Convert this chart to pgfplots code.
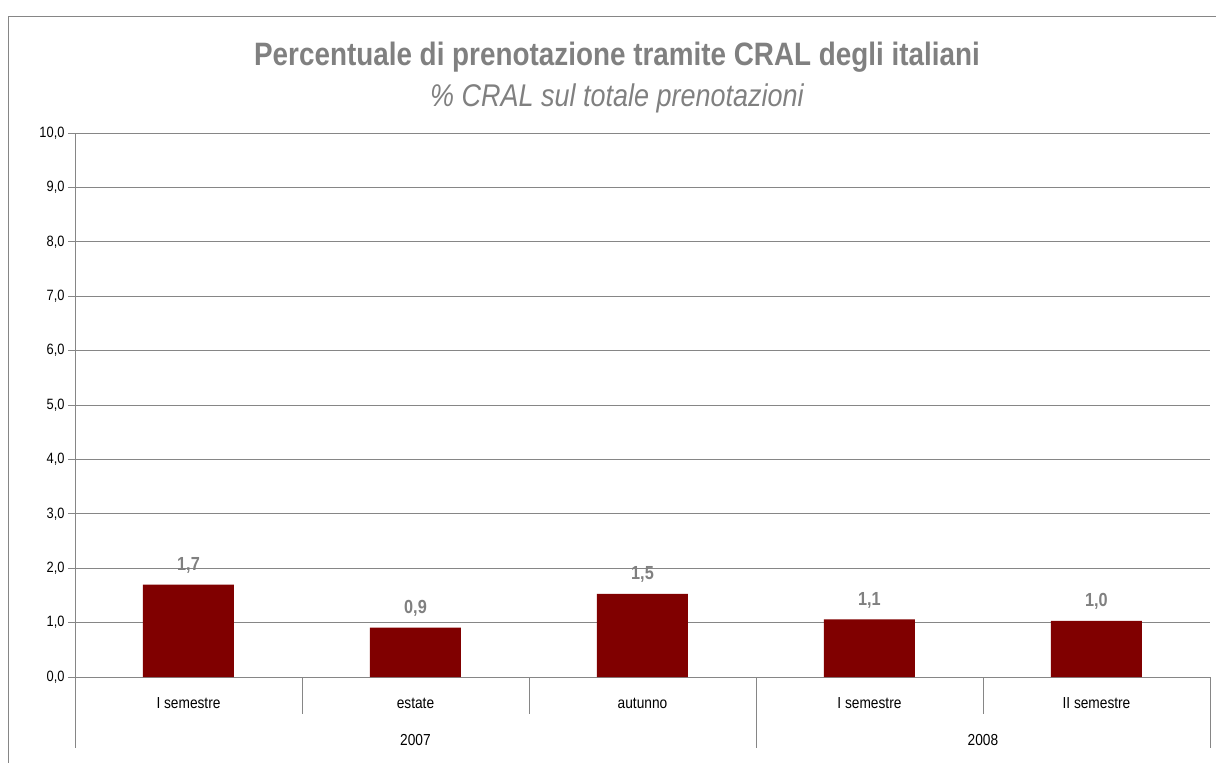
\documentclass[border=0pt]{standalone}
\usepackage{pgfplots}
\pgfplotsset{compat=1.18}
\usepackage{fontspec}
\setmainfont{Liberation Sans}[FakeStretch=0.86]
\definecolor{barred}{RGB}{128,0,0}
\definecolor{titlegray}{RGB}{128,128,128}
\definecolor{gridgray}{RGB}{134,134,134}
\begin{document}
\begin{tikzpicture}
\path[use as bounding box] (0,0) rectangle (1216bp,-763bp);
\draw[gridgray, line width=1bp] (8bp,-763bp) -- (8bp,-16bp) -- (1216bp,-16bp);
\node[font=\bfseries\fontsize{32.5}{38}\selectfont, text=titlegray] at (617bp,-57bp) {Percentuale di prenotazione tramite CRAL degli italiani};
\node[font=\itshape\fontsize{31.5}{37}\selectfont, text=titlegray] at (617bp,-98bp) {\% CRAL sul totale prenotazioni};
\begin{axis}[
  at={(75bp,-677bp)}, anchor=south west,
  width=1135bp, height=544bp, scale only axis,
  xmin=-0.5, xmax=4.5, ymin=0, ymax=10,
  ybar, bar width=91bp,
  axis x line*=bottom, axis y line*=left,
  axis line style={-, draw=gridgray, line width=0.8bp},
  ytick={0,1,...,10},
  yticklabel style={font=\fontsize{15}{17}\selectfont, /pgf/number format/.cd, fixed, fixed zerofill, precision=1, use comma, assume math mode=true},
  ymajorgrids, grid style={gridgray, line width=0.8bp},
  ytick style={draw=gridgray, line width=0.8bp},
  major tick length=7bp, tick align=outside,
  xtick={0,1,2,3,4},
  xticklabels={I semestre, estate, autunno, I semestre, II semestre},
  xtick style={draw=none},
  xticklabel style={font=\fontsize{16}{18}\selectfont, anchor=center, yshift=-19bp},
  clip=false,
]
\addplot[fill=barred, draw=none,
  nodes near coords,
  nodes near coords style={font=\bfseries\fontsize{19}{22}\selectfont, text=titlegray, inner sep=0pt, anchor=south, yshift=11bp, /pgf/number format/.cd, fixed, fixed zerofill, precision=1, use comma, assume math mode=true}]
  coordinates {(0,1.70) (1,0.91) (2,1.53) (3,1.06) (4,1.03)};
\draw[gridgray, line width=0.8bp] (axis cs:-0.5,0) -- ([yshift=-71bp]axis cs:-0.5,0);
\draw[gridgray, line width=0.8bp] (axis cs:0.5,0) -- ([yshift=-37bp]axis cs:0.5,0);
\draw[gridgray, line width=0.8bp] (axis cs:1.5,0) -- ([yshift=-37bp]axis cs:1.5,0);
\draw[gridgray, line width=0.8bp] (axis cs:2.5,0) -- ([yshift=-71bp]axis cs:2.5,0);
\draw[gridgray, line width=0.8bp] (axis cs:3.5,0) -- ([yshift=-37bp]axis cs:3.5,0);
\draw[gridgray, line width=0.8bp] (axis cs:4.5,0) -- ([yshift=-71bp]axis cs:4.5,0);
\node[font=\fontsize{16}{18}\selectfont] at ([yshift=-63bp]axis cs:1,0) {2007};
\node[font=\fontsize{16}{18}\selectfont] at ([yshift=-63bp]axis cs:3.5,0) {2008};
\end{axis}
\end{tikzpicture}
\end{document}
